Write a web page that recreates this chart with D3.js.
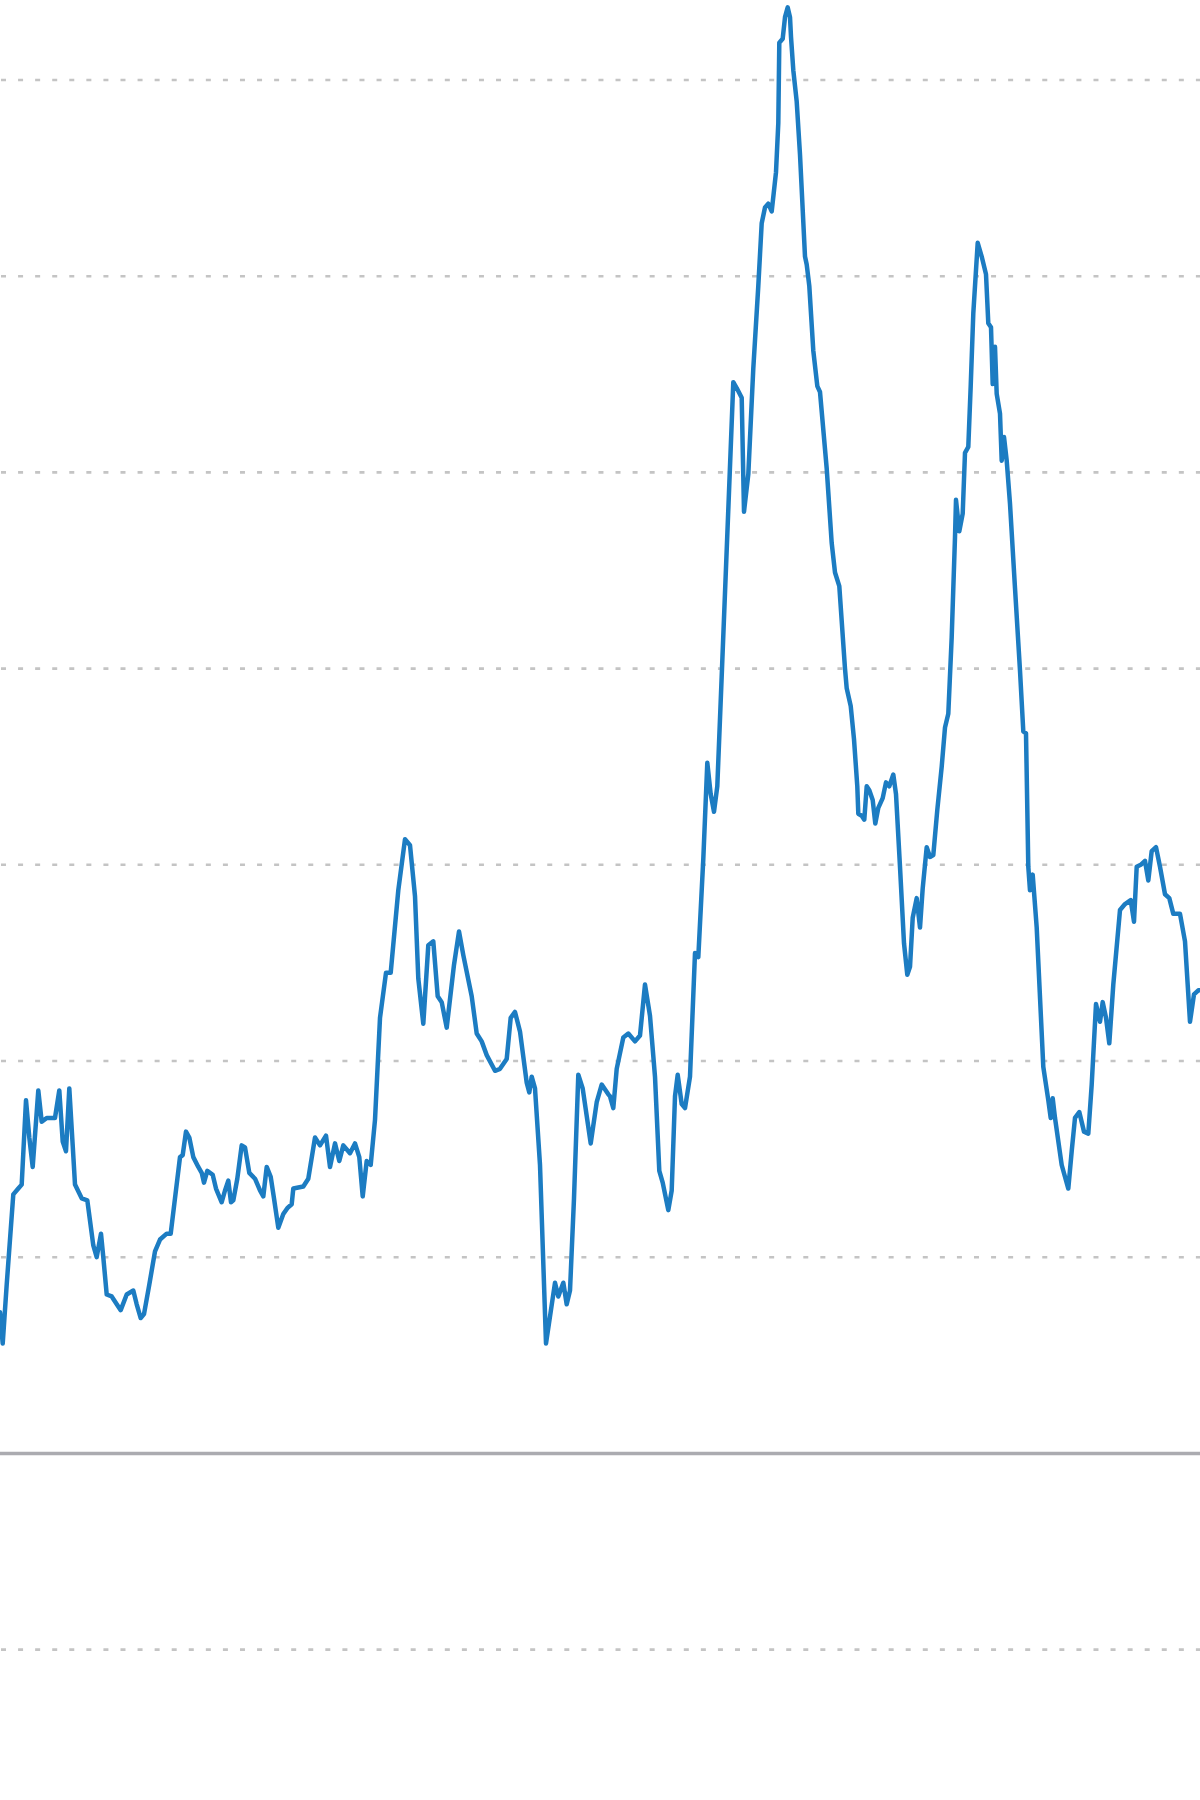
<!DOCTYPE html>
<html>
<head>
<meta charset="utf-8">
<script src="https://cdn.jsdelivr.net/npm/d3@7"></script>
<style>
  html, body { margin: 0; padding: 0; background: #ffffff; }
  svg { display: block; }
</style>
</head>
<body>
<svg id="chart" width="1200" height="1800"></svg>
<script>
// ---- data ----
const t = [
  0, 2.7, 6.7, 13.3, 18.3, 21.7, 26, 29.3, 32.7, 38.3, 41.7, 46.7, 55, 59.3, 62.7, 66, 69.3, 72.7, 75, 81.7,
  87.3, 93.3, 96.7, 101, 103.3, 106.7, 111.7, 120.7, 126.7, 133.3, 136.7, 140.7, 144, 149.3, 155, 160, 166.7, 170.7, 175, 180,
  182.7, 186, 189.3, 193.3, 198.3, 201.7, 204, 207.3, 212.7, 216, 221.7, 225, 228.3, 231, 233.3, 237.3, 241.7, 245, 249.3, 255,
  260, 263.3, 266.7, 270.7, 274, 278.3, 283.3, 287.3, 291.7, 293.3, 303.3, 308.3,
  315, 320, 326, 330, 335, 339.3, 343.3, 350, 355, 359.3, 362.7, 366.7, 370.7, 375, 380, 386, 390.7, 398.3, 405, 410,
  415, 418.3, 423.3, 428.3, 433.3, 437.7, 441.7, 446.7, 454, 459, 463.3, 471.7, 476.7, 481.7, 486.7, 495, 500, 506.7, 510.7, 515,
  520, 526.7, 529.3, 531.7, 535, 540, 546, 555, 558.3, 563.3, 566.7, 570, 574, 578.3, 582.7, 590.7, 596.7, 601.7, 608.3,
  610, 613.3, 616.7, 623.3, 628.3, 635, 640, 645, 650, 655, 659.3, 662.7, 668.3, 671.7, 675, 677.7, 681.7, 685, 690, 695,
  698.3, 703.3, 707.3, 710.7, 714, 717.3, 722,
  728.3, 733.3, 736.7, 741.7, 744, 748.3, 753.3, 758.3, 761.7, 765, 768.3, 771.7, 776, 778.3, 779.3, 782.7, 785, 787.7, 790, 791,
  793.3, 796.7, 800, 805, 806.7, 809.3, 813.3, 817.3, 820, 826.7, 831.7, 835, 839.3,
  845, 846.7, 850.7, 854, 857.3, 858.3, 861.7, 864.3, 866.7, 869.3, 872.7, 875.3, 878.3, 882.7, 886, 889.3, 893.3, 896,
  900, 904, 907.3, 910, 912.7, 916.7, 920, 922.7, 926.7, 930, 933.3, 937.3, 941.7, 945, 948.3,
  951.7, 955, 956, 959.3, 962.7, 965, 968.3, 970.7, 973.3, 977.7, 981.7, 986, 988.3, 991, 992.7, 995, 996.7, 1000, 1001.7, 1004,
  1006.7, 1010, 1015, 1020,
  1023.3, 1026, 1028.3, 1030, 1032.7, 1036.7, 1043.3, 1048.3, 1050.7, 1052.7, 1055, 1061.7, 1068.3, 1071.7, 1075, 1079.3, 1084, 1088.3, 1091.7, 1096,
  1100, 1102.7, 1106, 1109.3, 1113.3, 1120, 1125, 1130.7, 1134, 1136.7, 1140.7, 1145, 1148.3, 1151.7, 1156, 1160, 1165, 1169.3, 1173.3, 1180,
  1185, 1190, 1194, 1198.3, 1200
];
const values = [
  0.72, 0.56, 0.86, 1.32, 1.35, 1.37, 1.80, 1.61, 1.46, 1.85, 1.69, 1.71, 1.71, 1.85, 1.59, 1.54, 1.86, 1.57, 1.37, 1.30,
  1.29, 1.06, 1.00, 1.12, 1.00, 0.81, 0.80, 0.73, 0.81, 0.83, 0.76, 0.69, 0.71, 0.86, 1.03, 1.09, 1.12, 1.12, 1.30, 1.51,
  1.52, 1.64, 1.61, 1.51, 1.46, 1.43, 1.38, 1.44, 1.42, 1.35, 1.28, 1.34, 1.39, 1.28, 1.29, 1.40, 1.57, 1.56, 1.43, 1.40,
  1.34, 1.31, 1.46, 1.41, 1.30, 1.15, 1.22, 1.25, 1.27, 1.35, 1.36, 1.40,
  1.61, 1.57, 1.62, 1.46, 1.58, 1.49, 1.57, 1.53, 1.58, 1.51, 1.31, 1.49, 1.47, 1.70, 2.22, 2.45, 2.45, 2.87, 3.13, 3.10,
  2.84, 2.42, 2.19, 2.59, 2.61, 2.33, 2.30, 2.17, 2.49, 2.66, 2.54, 2.33, 2.14, 2.10, 2.03, 1.95, 1.96, 2.01, 2.22, 2.25,
  2.15, 1.89, 1.84, 1.92, 1.86, 1.47, 0.56, 0.87, 0.80, 0.87, 0.76, 0.83, 1.30, 1.93, 1.86, 1.58, 1.79, 1.88, 1.83,
  1.82, 1.76, 1.96, 2.12, 2.14, 2.10, 2.13, 2.39, 2.23, 1.92, 1.44, 1.38, 1.24, 1.34, 1.82, 1.93, 1.78, 1.76, 1.92, 2.55,
  2.53, 3.03, 3.52, 3.36, 3.27, 3.40, 4.00,
  4.81, 5.46, 5.43, 5.38, 4.80, 4.99, 5.53, 5.95, 6.27, 6.35, 6.37, 6.33, 6.53, 6.78, 7.19, 7.21, 7.32, 7.37, 7.32, 7.22,
  7.05, 6.89, 6.62, 6.10, 6.06, 5.95, 5.62, 5.44, 5.41, 5.02, 4.64, 4.49, 4.42,
  4.00, 3.90, 3.81, 3.64, 3.40, 3.26, 3.25, 3.23, 3.40, 3.38, 3.33, 3.21, 3.29, 3.34, 3.42, 3.40, 3.46, 3.36,
  2.99, 2.60, 2.44, 2.48, 2.73, 2.83, 2.68, 2.88, 3.09, 3.04, 3.05, 3.28, 3.50, 3.70, 3.77,
  4.16, 4.67, 4.86, 4.70, 4.79, 5.10, 5.13, 5.44, 5.81, 6.17, 6.10, 6.01, 5.76, 5.74, 5.45, 5.64, 5.40, 5.30, 5.06, 5.18,
  5.06, 4.84, 4.41, 3.99,
  3.68, 3.67, 2.99, 2.87, 2.95, 2.68, 1.97, 1.80, 1.71, 1.81, 1.71, 1.47, 1.35, 1.54, 1.71, 1.74, 1.64, 1.63, 1.88, 2.29,
  2.20, 2.30, 2.22, 2.09, 2.39, 2.77, 2.80, 2.82, 2.71, 2.99, 3.00, 3.02, 2.92, 3.07, 3.09, 2.99, 2.85, 2.83, 2.75, 2.75,
  2.61, 2.20, 2.34, 2.36, 2.36
];
const gridValues = [-1, 1, 2, 3, 4, 5, 6, 7];
const baselineValue = 0;

// ---- drawing ----
const W = 1200, H = 1800;
const svg = d3.select("#chart");

const x = d3.scaleLinear().domain([0, 1200]).range([0, W]);
const y = d3.scaleLinear().domain([-1, 7]).range([1649.6, 80]);

// dotted gridlines
svg.append("g")
  .selectAll("line")
  .data(gridValues)
  .join("line")
  .attr("x1", 0).attr("x2", W)
  .attr("y1", d => y(d)).attr("y2", d => y(d))
  .attr("stroke", "#c4c4c4")
  .attr("stroke-width", 2.6)
  .attr("stroke-dasharray", "5,12.07")
  .attr("stroke-dashoffset", -1);

// solid baseline
svg.append("line")
  .attr("x1", 0).attr("x2", W)
  .attr("y1", y(baselineValue)).attr("y2", y(baselineValue))
  .attr("stroke", "#ababb0")
  .attr("stroke-width", 3.5);

// data line
const pts = t.map((d, i) => [d, values[i]]);
const line = d3.line().x(d => x(d[0])).y(d => y(d[1])).curve(d3.curveLinear);
svg.append("path")
  .datum(pts)
  .attr("d", line)
  .attr("fill", "none")
  .attr("stroke", "#1c7cc2")
  .attr("stroke-width", 4.5)
  .attr("stroke-linejoin", "round")
  .attr("stroke-linecap", "round");
</script>
</body>
</html>
